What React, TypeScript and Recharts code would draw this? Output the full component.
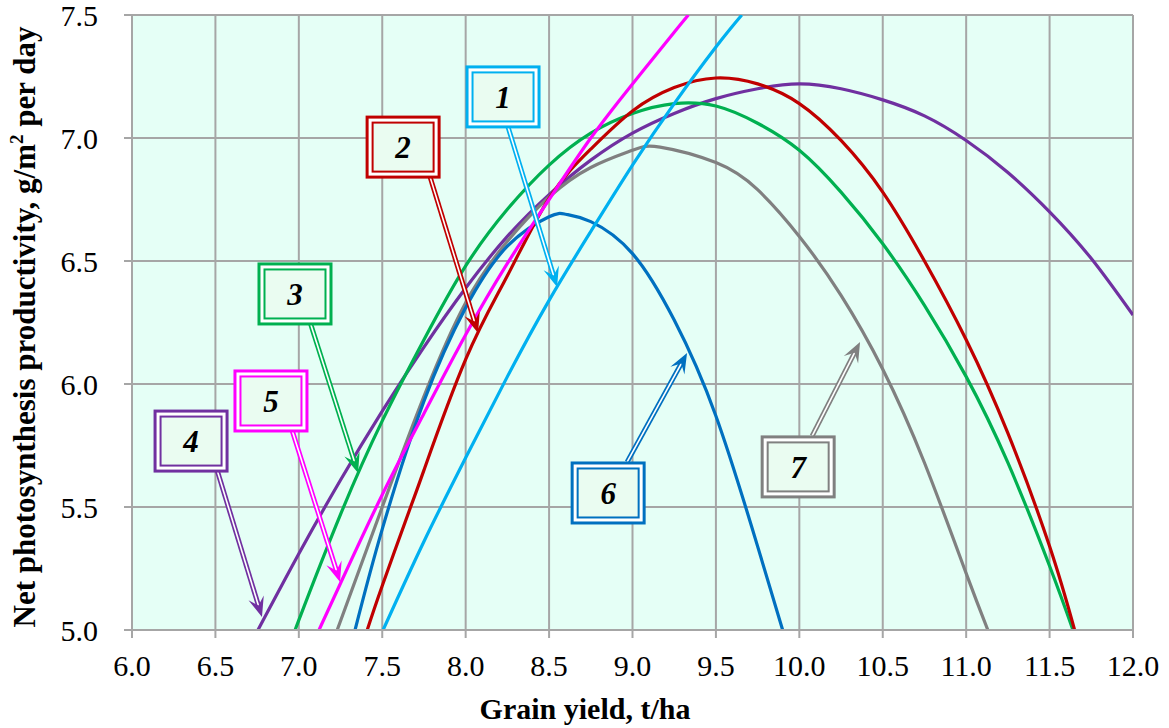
import React from 'react'
import { LineChart, Line, XAxis, YAxis, CartesianGrid, ReferenceLine, ReferenceDot } from 'recharts'

const FONT = '"Liberation Serif", "Times New Roman", serif'
const GRID = '#a6a6a6'
const PLOT_BG = '#e5fff6'
const BOX_BG = '#eafcf1'

const xTicks = [6, 6.5, 7, 7.5, 8, 8.5, 9, 9.5, 10, 10.5, 11, 11.5, 12]
const yTicks = [5, 5.5, 6, 6.5, 7, 7.5]

// curve 1 – light blue
const yield1 = [7.505, 7.75, 8.0, 8.25, 8.5, 8.75, 9.0, 9.25, 9.5, 9.655]
const npp1 = [5.0, 5.36, 5.7, 6.03, 6.34, 6.62, 6.89, 7.14, 7.37, 7.5]
// curve 2 – dark red
const yield2 = [7.41, 7.5, 7.67, 7.75, 8.0, 8.25, 8.5, 8.75, 9.0, 9.25, 9.5, 9.75, 10.0, 10.25, 10.5, 10.75, 11.0, 11.25, 11.5, 11.65]
const npp2 = [5.0, 5.18, 5.5, 5.65, 6.1, 6.44, 6.755, 6.955, 7.11, 7.205, 7.244, 7.22, 7.14, 6.99, 6.78, 6.5, 6.18, 5.8, 5.34, 5.0]
// curve 3 – green
const yield3 = [6.98, 7.0, 7.25, 7.5, 7.75, 8.0, 8.25, 8.5, 8.75, 9.0, 9.25, 9.5, 9.75, 10.0, 10.25, 10.5, 10.75, 11.0, 11.25, 11.5, 11.64]
const npp3 = [5.0, 5.04, 5.47, 5.85, 6.18, 6.48, 6.71, 6.89, 7.02, 7.1, 7.14, 7.13, 7.06, 6.95, 6.78, 6.57, 6.32, 6.03, 5.68, 5.26, 5.0]
// curve 4 – purple
const yield4 = [6.755, 7.0, 7.25, 7.5, 7.75, 8.0, 8.25, 8.5, 8.75, 9.0, 9.25, 9.5, 9.75, 10.0, 10.25, 10.5, 10.75, 11.0, 11.25, 11.5, 11.75, 12.0]
const npp4 = [5.0, 5.31, 5.61, 5.89, 6.15, 6.39, 6.6, 6.77, 6.91, 7.02, 7.1, 7.16, 7.2, 7.22, 7.2, 7.155, 7.09, 6.99, 6.86, 6.7, 6.51, 6.28]
// curve 5 – magenta
const yield5 = [7.121, 7.25, 7.5, 7.75, 8.0, 8.25, 8.5, 8.75, 9.0, 9.25, 9.335]
const npp5 = [5.0, 5.19, 5.55, 5.88, 6.2, 6.49, 6.75, 7.0, 7.22, 7.43, 7.5]
// curve 6 – blue
const yield6 = [7.337, 7.5, 7.75, 8.0, 8.25, 8.5, 8.6, 8.75, 9.0, 9.25, 9.5, 9.75, 9.9]
const npp6 = [5.0, 5.41, 5.93, 6.31, 6.56, 6.68, 6.69, 6.66, 6.53, 6.26, 5.87, 5.34, 5.0]
// curve 7 – gray
const yield7 = [7.23, 7.5, 7.75, 8.0, 8.25, 8.5, 8.75, 9.0, 9.165, 9.5, 9.75, 10.0, 10.25, 10.5, 10.75, 11.0, 11.13]
const npp7 = [5.0, 5.5, 5.95, 6.33, 6.58, 6.76, 6.88, 6.95, 6.963, 6.9, 6.79, 6.6, 6.36, 6.06, 5.68, 5.23, 5.0]

const pts = (xs: number[], ys: number[]) => xs.map((x, i) => ({ x, y: ys[i] }))

const series = [
  { id: '4', color: '#7030a0', data: pts(yield4, npp4) },
  { id: '3', color: '#00b050', data: pts(yield3, npp3) },
  { id: '7', color: '#808080', data: pts(yield7, npp7) },
  { id: '6', color: '#0070c0', data: pts(yield6, npp6) },
  { id: '2', color: '#c00000', data: pts(yield2, npp2) },
  { id: '5', color: '#ff00ff', data: pts(yield5, npp5) },
  { id: '1', color: '#00b0f0', data: pts(yield1, npp1) },
]

// callouts: box centre, arrow start and arrow tip, in data units
const callouts = [
  { label: '1', color: '#00b0f0', box: [8.224, 7.167], from: [8.254, 7.045], tip: [8.548, 6.394] },
  { label: '2', color: '#c00000', box: [7.625, 6.963], from: [7.787, 6.841], tip: [8.074, 6.207] },
  { label: '3', color: '#00b050', box: [6.977, 6.366], from: [7.067, 6.252], tip: [7.355, 5.638] },
  { label: '4', color: '#7030a0', box: [6.354, 5.768], from: [6.51, 5.65], tip: [6.779, 5.053] },
  { label: '5', color: '#ff00ff', box: [6.833, 5.931], from: [6.959, 5.813], tip: [7.247, 5.195] },
  { label: '6', color: '#0070c0', box: [8.854, 5.557], from: [8.968, 5.683], tip: [9.327, 6.126] },
  { label: '7', color: '#808080', box: [9.993, 5.663], from: [10.077, 5.789], tip: [10.364, 6.171] },
]

function ArrowShape({ x1, y1, x2, y2, color }: any) {
  const dx = x2 - x1
  const dy = y2 - y1
  const len = Math.sqrt(dx * dx + dy * dy) || 1
  const ux = dx / len
  const uy = dy / len
  const nx = -uy
  const ny = ux
  const L = 20
  const W = 8
  const bx = x2 - ux * L
  const by = y2 - uy * L
  const mx = x2 - ux * L * 0.6
  const my = y2 - uy * L * 0.6
  const head = `${x2},${y2} ${bx + nx * W},${by + ny * W} ${mx},${my} ${bx - nx * W},${by - ny * W}`
  return (
    <g>
      <line x1={x1} y1={y1} x2={mx} y2={my} stroke={color} strokeWidth={5} />
      <line x1={x1} y1={y1} x2={mx + ux * 2} y2={my + uy * 2} stroke="#ffffff" strokeWidth={1.6} />
      <polygon points={head} fill={color} />
    </g>
  )
}

function BoxShape({ cx, cy, color, label }: any) {
  return (
    <g>
      <rect x={cx - 36} y={cy - 30} width={72} height={60} fill="#ffffff" stroke={color} strokeWidth={3} />
      <rect x={cx - 30.5} y={cy - 24.5} width={61} height={49} fill={BOX_BG} stroke={color} strokeWidth={2} />
      <text x={cx} y={cy + 11} textAnchor="middle" fontFamily={FONT} fontStyle="italic" fontWeight="bold" fontSize={31} fill="#000">
        {label}
      </text>
    </g>
  )
}

export default function App() {
  return (
    <div style={{ position: 'absolute', left: 0, top: 0, width: 1169, height: 728, background: '#fff' }}>
      <LineChart width={1169} height={728} margin={{ top: 15, right: 36, left: 0, bottom: 0 }}>
        <CartesianGrid stroke={GRID} strokeWidth={2} fill={PLOT_BG} fillOpacity={1} />
        <XAxis
          type="number"
          dataKey="x"
          domain={[6, 12]}
          ticks={xTicks}
          interval={0}
          allowDataOverflow
          height={98}
          tickSize={8}
          tickMargin={17}
          axisLine={{ stroke: GRID, strokeWidth: 2 }}
          tickLine={{ stroke: GRID, strokeWidth: 2 }}
          tick={{ fill: '#000', fontSize: 30, fontFamily: FONT }}
          tickFormatter={(v: number) => v.toFixed(1)}
          label={{
            content: () => (
              <text x={585} y={719} textAnchor="middle" fontFamily={FONT} fontWeight="bold" fontSize={30} fill="#000">
                Grain yield, t/ha
              </text>
            ),
          }}
        />
        <YAxis
          type="number"
          domain={[5, 7.5]}
          ticks={yTicks}
          interval={0}
          allowDataOverflow
          width={132}
          tickSize={8}
          tickMargin={26}
          axisLine={{ stroke: GRID, strokeWidth: 2 }}
          tickLine={{ stroke: GRID, strokeWidth: 2 }}
          tick={{ fill: '#000', fontSize: 30, fontFamily: FONT }}
          tickFormatter={(v: number) => v.toFixed(1)}
          label={{
            content: () => (
              <text
                transform="translate(35,327) rotate(-90)"
                textAnchor="middle"
                fontFamily={FONT}
                fontWeight="bold"
                fontSize={31}
                fill="#000"
              >
                Net photosynthesis productivity, g/m
                <tspan dy={-12} fontSize={19}>2</tspan>
                <tspan dy={12}> per day</tspan>
              </text>
            ),
          }}
        />
        {series.map(s => (
          <Line
            key={s.id}
            data={s.data}
            dataKey="y"
            type="natural"
            stroke={s.color}
            strokeWidth={3.2}
            dot={false}
            activeDot={false}
            isAnimationActive={false}
          />
        ))}
        {callouts.map(c => (
          <ReferenceLine
            key={`arrow-${c.label}`}
            segment={[{ x: c.from[0], y: c.from[1] }, { x: c.tip[0], y: c.tip[1] }]}
            shape={(p: any) => <ArrowShape {...p} color={c.color} />}
          />
        ))}
        {callouts.map(c => (
          <ReferenceDot
            key={`box-${c.label}`}
            x={c.box[0]}
            y={c.box[1]}
            r={1}
            shape={(p: any) => <BoxShape {...p} color={c.color} label={c.label} />}
          />
        ))}
      </LineChart>
    </div>
  )
}
